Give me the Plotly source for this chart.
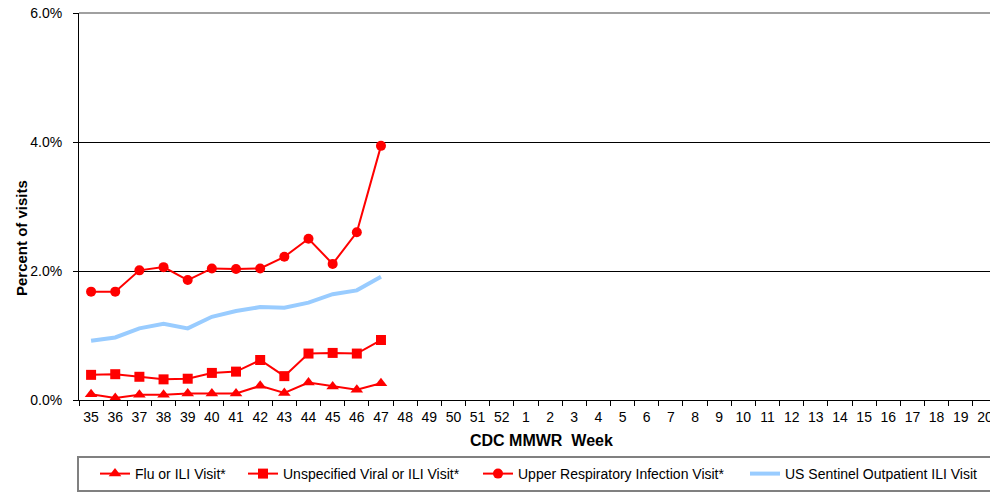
import plotly.graph_objects as go

weeks = [str(w) for w in list(range(35, 53)) + list(range(1, 21))]
obs_weeks = weeks[:13]

flu_ili = [0.0009, 0.0003, 0.0008, 0.0008, 0.0010, 0.0010, 0.0010, 0.0022, 0.0011, 0.0027, 0.0021, 0.0016, 0.0026]
unspec_viral = [0.0039, 0.0040, 0.0036, 0.0032, 0.0033, 0.0042, 0.0044, 0.0062, 0.0037, 0.0072, 0.0073, 0.0072, 0.0093]
upper_resp = [0.0168, 0.0168, 0.0201, 0.0206, 0.0186, 0.0204, 0.0203, 0.0204, 0.0222, 0.0250, 0.0211, 0.0260, 0.0394]
us_sentinel = [0.0092, 0.0097, 0.0111, 0.0118, 0.0111, 0.0129, 0.0138, 0.0144, 0.0143, 0.0151, 0.0164, 0.0170, 0.0191]

series_names = ["Flu or ILI Visit*", "Unspecified Viral or ILI Visit*",
                "Upper Respiratory Infection Visit*", "US Sentinel Outpatient ILI Visit"]
y_ticks = [0, 0.02, 0.04, 0.06]

# page body has an 8px default margin; work in screen pixels and offset
OFF = 8
W, H = 998 - OFF, 493 - OFF
PLOT_L, PLOT_R, PLOT_T, PLOT_B = 79, 997, 13, 400  # screen pixels
L, R, T, B = PLOT_L - OFF, 998 - PLOT_R, PLOT_T - OFF, 493 - PLOT_B
PW, PH = W - L - R, H - T - B


def px_x(x):
    return (x - PLOT_L) / PW


def px_y(y):
    return (PLOT_B - y) / PH


RED = "#FF0000"
BLUE = "#99CCFF"
FONT = "Liberation Sans, Arial, sans-serif"

fig = go.Figure()
fig.add_trace(go.Scatter(x=obs_weeks, y=flu_ili, name=series_names[0], mode="lines+markers",
                         line=dict(color=RED, width=2), marker=dict(symbol="triangle-up", size=11, color=RED),
                         legend="legend"))
fig.add_trace(go.Scatter(x=obs_weeks, y=unspec_viral, name=series_names[1], mode="lines+markers",
                         line=dict(color=RED, width=2), marker=dict(symbol="square", size=10, color=RED),
                         legend="legend2"))
fig.add_trace(go.Scatter(x=obs_weeks, y=upper_resp, name=series_names[2], mode="lines+markers",
                         line=dict(color=RED, width=2), marker=dict(symbol="circle", size=10, color=RED),
                         legend="legend3"))
fig.add_trace(go.Scatter(x=obs_weeks, y=us_sentinel, name=series_names[3], mode="lines",
                         line=dict(color=BLUE, width=4),
                         legend="legend4"))

text_starts = [136, 284, 519, 786]
legend_y = px_y(474)
leg_common = dict(orientation="h", yanchor="middle", xanchor="left", bgcolor="rgba(0,0,0,0)",
                  borderwidth=0, font=dict(family=FONT, size=14, color="#000000"))
legend_cfg = {}
for i, ts in enumerate(text_starts):
    key = "legend" if i == 0 else f"legend{i + 1}"
    legend_cfg[key] = dict(x=px_x(ts - 41), y=legend_y, **leg_common)

fig.update_layout(
    width=W, height=H,
    margin=dict(l=L, r=R, t=T, b=B, autoexpand=False),
    paper_bgcolor="white", plot_bgcolor="white",
    font=dict(family=FONT, size=14, color="#000000"),
    showlegend=True,
    **legend_cfg,
    xaxis=dict(type="category", categoryorder="array", categoryarray=weeks,
               tickvals=weeks, ticktext=weeks, range=[-0.5, len(weeks) - 0.5],
               tickson="boundaries", ticks="outside", ticklen=5, tickcolor="#000000",
               tickangle=0, automargin=False, ticklabeloverflow="allow",
               showline=True, linecolor="#000000", linewidth=1, showgrid=False,
               tickfont=dict(family=FONT, size=14), ticklabelstandoff=4, fixedrange=True),
    yaxis=dict(range=[0, 0.06], tickvals=y_ticks, tickformat=".1%", automargin=False,
               ticklabeloverflow="allow",
               ticks="outside", ticklen=5, tickcolor="#000000",
               showline=True, linecolor="#000000", linewidth=1,
               showgrid=True, gridcolor="#000000", gridwidth=1, zeroline=False,
               tickfont=dict(family=FONT, size=14), ticklabelstandoff=8, fixedrange=True),
    annotations=[
        dict(text="<b>CDC MMWR  Week</b>", xref="paper", yref="paper", x=px_x(541), y=px_y(440),
             xanchor="center", yanchor="middle", showarrow=False, font=dict(family=FONT, size=16)),
        dict(text="<b>Percent of visits</b>", xref="paper", yref="paper", x=px_x(22), y=px_y(238),
             xanchor="center", yanchor="middle", textangle=-90, showarrow=False,
             font=dict(family=FONT, size=15)),
    ],
    shapes=[
        dict(type="line", xref="paper", yref="paper", x0=0, x1=1, y0=1, y1=1,
             line=dict(color="#808080", width=1.5)),
        dict(type="rect", xref="paper", yref="paper", x0=px_x(78), x1=px_x(996), y0=px_y(457), y1=px_y(491),
             line=dict(color="#808080", width=2), fillcolor="rgba(0,0,0,0)"),
    ],
)

fig.write_html("out.html")
